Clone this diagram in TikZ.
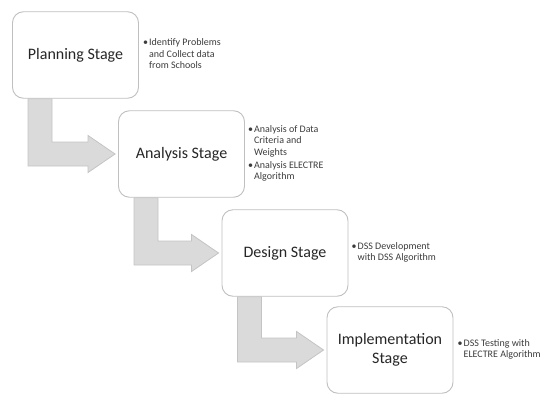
\documentclass[tikz,border=0pt]{standalone}
\usepackage{fontspec}
\setmainfont{Carlito}
\usetikzlibrary{positioning,calc,backgrounds}
\definecolor{boxline}{RGB}{192,192,192}
\definecolor{arrowfill}{RGB}{218,218,218}
\definecolor{arrowline}{RGB}{196,196,196}
\definecolor{notetext}{RGB}{60,60,60}
\tikzset{
  stage/.style={draw=boxline, line width=0.9pt, fill=white, rounded corners=11pt,
    minimum width=126pt, minimum height=86.5pt, align=center, inner sep=2pt,
    font=\fontsize{16}{18.5}\selectfont, text=black!85},
  note/.style={align=left, inner sep=0pt, text=notetext,
    font=\fontsize{10}{11.3}\selectfont},
  flow/.style={fill=arrowfill, draw=arrowline, line width=0.8pt}
}
% bent block arrow: down out of #1, then right into #2
\newcommand{\flowarrow}[2]{%
  \draw[flow] let \p1=(#1.south west), \p2=(#2.west) in
    (\x1+16pt,\y1) -- (\x1+40pt,\y1) -- (\x1+40pt,\y2+12pt) -- (\x2-30pt,\y2+12pt)
    -- (\x2-30pt,\y2+18.5pt) -- (\x2-3pt,\y2) -- (\x2-30pt,\y2-18.5pt)
    -- (\x2-30pt,\y2-12pt) -- (\x1+16pt,\y2-12pt) -- cycle;}

\begin{document}
\begin{tikzpicture}[x=1pt,y=-1pt]
\useasboundingbox (0,0) rectangle (546,394);

% stages
\node[stage] (plan) at (75.5,55) {Planning Stage};
\node[stage] (analysis) at (181.5,154) {Analysis Stage};
\node[stage] (design) at (285,253) {Design Stage};
\node[stage] (impl) at (390,350) {Implementation\\Stage};

% notes
\node[note, right=4pt of plan] (plannote) {\begin{tabular}{@{}l@{\hspace{1pt}}l@{}}
  \textbullet & Identify Problems\\ & and Collect data\\ & from Schools\end{tabular}};
\node[note, right=3pt of analysis] (analysisnote) {\begin{tabular}{@{}l@{\hspace{1pt}}l@{}}
  \textbullet & Analysis of Data\\ & Criteria and\\ & Weights\\[2pt]
  \textbullet & Analysis ELECTRE\\ & Algorithm\end{tabular}};
\node[note, right=3pt of design] (designnote) {\begin{tabular}{@{}l@{\hspace{1pt}}l@{}}
  \textbullet & DSS Development\\ & with DSS Algorithm\end{tabular}};
\node[note, right=4pt of impl] (implnote) {\begin{tabular}{@{}l@{\hspace{1pt}}l@{}}
  \textbullet & DSS Testing with\\ & ELECTRE Algorithm\end{tabular}};

% arrows
\begin{scope}[on background layer]
\flowarrow{plan}{analysis}
\flowarrow{analysis}{design}
\flowarrow{design}{impl}
\end{scope}

\end{tikzpicture}
\end{document}
